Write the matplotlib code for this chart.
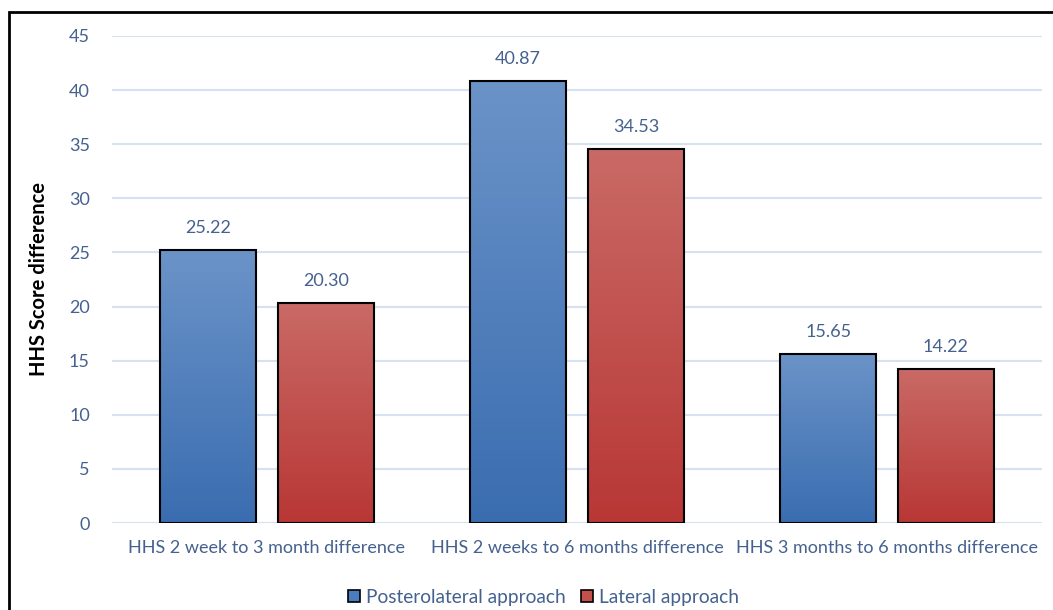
import numpy as np
import matplotlib.pyplot as plt
from matplotlib.patches import Rectangle, Patch
from matplotlib.colors import LinearSegmentedColormap

# data
categories = ['HHS 2 week to 3 month difference',
              'HHS 2 weeks to 6 months difference',
              'HHS 3 months to 6 months difference']
posterolateral = [25.22, 40.87, 15.65]
lateral = [20.30, 34.53, 14.22]
series_names = ['Posterolateral approach', 'Lateral approach']

text_col = '#44618f'
plt.rcParams['font.family'] = ['Lato', 'DejaVu Sans']

fig = plt.figure(figsize=(10.53, 6.10), dpi=100)
ax = fig.add_axes([112 / 1053, 1 - 523 / 610, (1042 - 112) / 1053, (523 - 36) / 610])

# outer black frame (extends past the right/bottom edge like the source)
fig.patches.append(Rectangle((9 / 1053, -0.05), 1.1, 1 - 12 / 610 + 0.05,
                             transform=fig.transFigure, fill=False,
                             edgecolor='black', lw=2, clip_on=False))

x = np.arange(len(categories))
w = 0.31
gap = 0.07

blue_cmap = LinearSegmentedColormap.from_list('b', ['#3a6db0', '#6b93c8'])
red_cmap = LinearSegmentedColormap.from_list('r', ['#b83735', '#c96a66'])
grad = np.linspace(0, 1, 256).reshape(-1, 1)


def gradient_bars(xs, vals, cmap):
    bars = ax.bar(xs, vals, w, facecolor='none', edgecolor='black', lw=1.5, zorder=3)
    for b in bars:
        x0, y0 = b.get_x(), b.get_y()
        im = ax.imshow(grad, cmap=cmap, origin='lower', aspect='auto',
                       extent=[x0, x0 + b.get_width(), y0, y0 + b.get_height()], zorder=2)
        im.set_clip_path(b)
    return bars


b1 = gradient_bars(x - (w + gap) / 2, posterolateral, blue_cmap)
b2 = gradient_bars(x + (w + gap) / 2, lateral, red_cmap)

for bars, vals in [(b1, posterolateral), (b2, lateral)]:
    for b, v in zip(bars, vals):
        ax.text(b.get_x() + b.get_width() / 2, v + 1.3, f'{v:.2f}',
                ha='center', va='bottom', fontsize=13, color=text_col)

ax.set_xlim(-0.5, 2.5)
ax.set_ylim(0, 45)
ax.set_yticks(range(0, 46, 5))
ax.set_xticks(x)
ax.set_xticklabels(categories)
ax.tick_params(axis='both', length=0, labelsize=13, labelcolor=text_col)
ax.tick_params(axis='y', pad=16)
ax.tick_params(axis='x', pad=12)
ax.grid(axis='y', color='#d6e2f1', lw=1.5, zorder=0)
ax.set_axisbelow(True)
for s in ax.spines.values():
    s.set_visible(False)
ax.set_ylabel('HHS Score difference', fontsize=14.5, fontweight='bold',
              color='black', labelpad=14)

handles = [Patch(facecolor='#4a7dbd', edgecolor='black', lw=1.2),
           Patch(facecolor='#c4504d', edgecolor='black', lw=1.2)]
fig.legend(handles, series_names, loc='center', bbox_to_anchor=(0.516, 1 - 597 / 610),
           ncol=2, frameon=False, fontsize=13.8, labelcolor=text_col,
           handlelength=0.62, handleheight=0.62, handletextpad=0.3, columnspacing=0.8)

fig.savefig('out.png', dpi=100)
